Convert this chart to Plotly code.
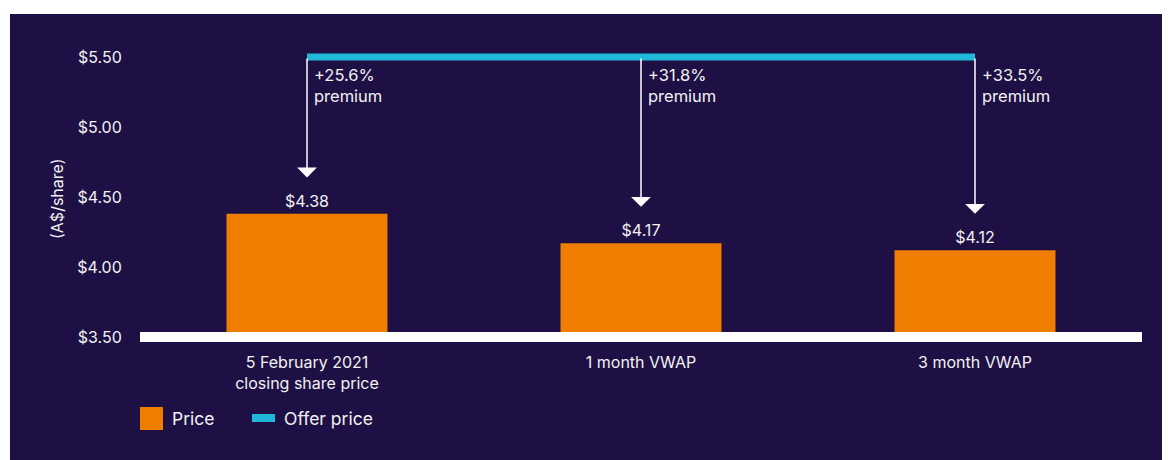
import plotly.graph_objects as go

# ---- data ----
categories = ["5 February 2021<br>closing share price", "1 month VWAP", "3 month VWAP"]
prices = [4.38, 4.17, 4.12]
price_labels = ["$4.38", "$4.17", "$4.12"]
offer_price = 5.50
premiums = ["+25.6%", "+31.8%", "+33.5%"]
y_ticks = [3.50, 4.00, 4.50, 5.00, 5.50]
y_tick_labels = ["$3.50", "$4.00", "$4.50", "$5.00", "$5.50"]
y_title = "(A$/share)"
legend_names = ["Price", "Offer price"]

# ---- style ----
NAVY = "#1e1044"
ORANGE = "#ee7d00"
CYAN = "#1fb8d8"
TXT = "#f2f2f2"
FONT = "Inter"
BASE = 3.50

OFF = 8  # page offset of the figure (body margin)
W, H = 1170 - OFF, 460 - OFF
ML, MR, MT, MB = 132, 28, 28, 116
PW = W - ML - MR
PH = H - MT - MB


def px_x(px):  # page pixel -> paper
    return (px - OFF - ML) / PW


def px_y(py):
    return (H - MB - (py - OFF)) / PH


xs = list(range(len(categories)))

fig = go.Figure()
fig.add_trace(go.Bar(
    x=xs, y=[p - BASE for p in prices], base=BASE,
    marker=dict(color=ORANGE, line=dict(width=0)),
    width=0.482,
    text=price_labels, textposition="outside",
    textfont=dict(color=TXT, size=16, family=FONT),
    cliponaxis=False,
    name=legend_names[0], showlegend=False,
    customdata=prices, hovertemplate="%{customdata:$.2f}<extra></extra>",
))
fig.add_trace(go.Scatter(
    x=[xs[0], xs[-1]], y=[offer_price, offer_price], mode="lines",
    line=dict(color=CYAN, width=7),
    name=legend_names[1], showlegend=False,
))

annotations = []
for i, p in enumerate(prices):
    annotations.append(dict(
        x=i, y=p + 0.26, ax=i, ay=offer_price, xref="x", yref="y",
        axref="x", ayref="y", text="", showarrow=True,
        arrowhead=1, arrowsize=2.2, arrowwidth=1.5, arrowcolor="white",
        standoff=0, startstandoff=0,
    ))
    annotations.append(dict(
        x=i, y=offer_price, xref="x", yref="y", xanchor="left", yanchor="top",
        xshift=5, yshift=-6, align="left", showarrow=False,
        text=f"{premiums[i]}<br>premium",
        font=dict(color=TXT, size=16.5, family=FONT),
    ))

# y-axis title
annotations.append(dict(
    x=px_x(57), y=px_y(199), xref="paper", yref="paper", text=y_title,
    textangle=-90, showarrow=False, font=dict(color=TXT, size=16, family=FONT),
    xanchor="center", yanchor="middle",
))
# custom legend labels
annotations.append(dict(
    x=px_x(170), y=px_y(418), xref="paper", yref="paper", text=legend_names[0],
    showarrow=False, xanchor="left", yanchor="middle",
    font=dict(color=TXT, size=17.5, family=FONT),
))
annotations.append(dict(
    x=px_x(282), y=px_y(418), xref="paper", yref="paper", text=legend_names[1],
    showarrow=False, xanchor="left", yanchor="middle",
    font=dict(color=TXT, size=17.5, family=FONT),
))

shapes = [
    # baseline
    dict(type="line", xref="x", yref="y", x0=-0.5, x1=2.5, y0=BASE, y1=BASE,
         line=dict(color="white", width=10), layer="above"),
    # legend swatches
    dict(type="rect", xref="paper", yref="paper", x0=px_x(140), x1=px_x(163),
         y0=px_y(430), y1=px_y(407), fillcolor=ORANGE, line=dict(width=0)),
    dict(type="rect", xref="paper", yref="paper", x0=px_x(252), x1=px_x(275),
         y0=px_y(422), y1=px_y(414), fillcolor=CYAN, line=dict(width=0)),
    # white page margins
    dict(type="rect", xref="paper", yref="paper", x0=px_x(0), x1=px_x(1200),
         y0=px_y(14), y1=px_y(0), fillcolor="white", line=dict(width=0)),
    dict(type="rect", xref="paper", yref="paper", x0=px_x(0), x1=px_x(10),
         y0=px_y(480), y1=px_y(0), fillcolor="white", line=dict(width=0)),
]

fig.update_layout(
    width=W, height=H,
    margin=dict(l=ML, r=MR, t=MT, b=MB, autoexpand=False),
    paper_bgcolor=NAVY, plot_bgcolor=NAVY,
    font=dict(family=FONT, color=TXT, size=16),
    showlegend=False,
    annotations=annotations, shapes=shapes,
    xaxis=dict(range=[-0.5, 2.5], tickvals=xs, ticktext=categories,
               showgrid=False, zeroline=False, showline=False,
               ticks="outside", ticklen=4, tickcolor=NAVY,
               tickfont=dict(size=16, color=TXT, family=FONT), fixedrange=True),
    yaxis=dict(range=[3.45, 5.65], tickvals=y_ticks, ticktext=y_tick_labels,
               showgrid=False, zeroline=False, showline=False,
               ticks="outside", ticklen=14, tickcolor=NAVY,
               tickfont=dict(size=16, color=TXT, family=FONT), fixedrange=True),
)

fig.write_html("out.html")
